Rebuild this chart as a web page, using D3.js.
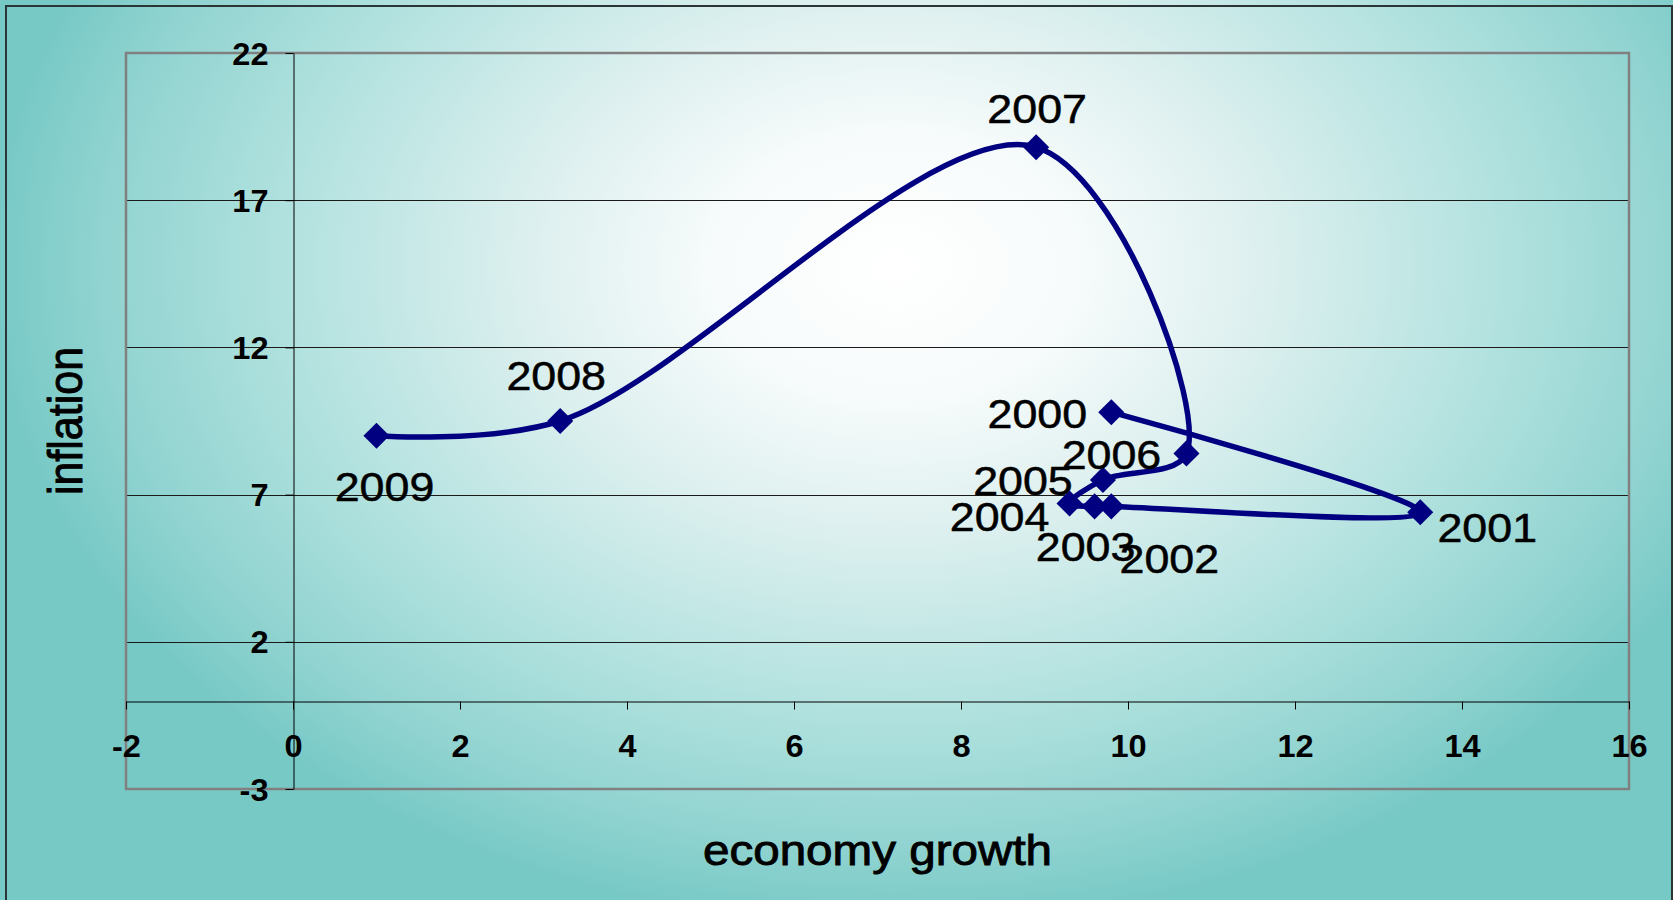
<!DOCTYPE html>
<html>
<head>
<meta charset="utf-8">
<script src="https://cdn.jsdelivr.net/npm/d3@7/dist/d3.min.js"></script>
<style>
  html, body { margin: 0; padding: 0; background: #76c9c5; }
  svg { display: block; }
  text { font-family: "Liberation Sans", Arial, Helvetica, sans-serif; fill: #000; }
</style>
</head>
<body>
<svg id="chart" width="1673" height="900"></svg>
<script>
// Economy growth vs. inflation, one point per year, joined in time order
const years     = [2000, 2001, 2002, 2003, 2004, 2005, 2006, 2007, 2008, 2009];
const growth    = [9.8, 13.5, 9.8, 9.6, 9.3, 9.7, 10.7, 8.9, 3.2, 1.0];
const inflation = [9.8, 6.4, 6.6, 6.6, 6.7, 7.5, 8.4, 18.8, 9.5, 9.0];

const xTicks = [-2, 0, 2, 4, 6, 8, 10, 12, 14, 16];
const yTicks = [-3, 2, 7, 12, 17, 22];

const xTitle = "economy growth";
const yTitle = "inflation";

const W = 1673, H = 900;
const plot = { left: 126, right: 1629, top: 53, bottom: 789 };
const TEXT_STRETCH = 1.12;          // text is drawn slightly wide
const LINE_COLOR = "#000080";

const svg = d3.select("#chart");

// ----- background: soft radial fill, near white in the middle, teal at the edges -----
const defs = svg.append("defs");
const cx = 895, cy = 267, rx = 905, ry = 660;
const grad = defs.append("radialGradient")
  .attr("id", "bgFill")
  .attr("gradientUnits", "userSpaceOnUse")
  .attr("cx", cx).attr("cy", cy).attr("r", rx)
  .attr("fx", cx).attr("fy", cy)
  .attr("gradientTransform", `translate(${cx},${cy}) scale(1,${ry / rx}) translate(${-cx},${-cy})`);
[
  [0.00, "#ffffff"],
  [0.20, "#f7fbfb"],
  [0.40, "#ddf0ef"],
  [0.70, "#ade0dd"],
  [0.88, "#90d3d0"],
  [1.00, "#77c9c6"]
].forEach(([o, c]) => grad.append("stop").attr("offset", o).attr("stop-color", c));

svg.append("rect").attr("x", 0).attr("y", 0).attr("width", W).attr("height", H)
  .attr("fill", "url(#bgFill)");

// outer frame
svg.append("rect").attr("x", 6).attr("y", 6).attr("width", W - 7).attr("height", H)
  .attr("fill", "none").attr("stroke", "#2b3535").attr("stroke-width", 2);

// ----- scales -----
const x = d3.scaleLinear().domain([-2, 16]).range([plot.left, plot.right]);
const y = d3.scaleLinear().domain([-3, 22]).range([plot.bottom, plot.top]);

// horizontal gridlines
svg.append("g").selectAll("line").data(yTicks).join("line")
  .attr("x1", plot.left).attr("x2", plot.right)
  .attr("y1", d => Math.round(y(d)) + 0.5).attr("y2", d => Math.round(y(d)) + 0.5)
  .attr("stroke", "#1a1a1a").attr("stroke-width", 1);

// plot frame
svg.append("rect")
  .attr("x", plot.left).attr("y", plot.top)
  .attr("width", plot.right - plot.left).attr("height", plot.bottom - plot.top)
  .attr("fill", "none").attr("stroke", "#808080").attr("stroke-width", 2.5);

// ----- axes crossing at the origin -----
const x0 = Math.round(x(0)) + 0.5;
const y0 = Math.round(y(0)) + 0.5;
const tickFmt = d => String(d);   // plain hyphen minus

const yAxis = svg.append("g")
  .attr("transform", `translate(${x0},0)`)
  .call(d3.axisLeft(y).tickValues(yTicks).tickSize(8).tickSizeOuter(0).tickFormat(tickFmt));

const xAxis = svg.append("g")
  .attr("transform", `translate(0,${y0})`)
  .call(d3.axisBottom(x).tickValues(xTicks).tickSize(8).tickSizeOuter(0).tickFormat(tickFmt));

const TICK_SIZE = 31;
[yAxis, xAxis].forEach(g => {
  g.select(".domain").attr("stroke", "#000").attr("stroke-width", 1);
  g.selectAll(".tick line").attr("stroke", "#000").attr("stroke-width", 1);
  g.selectAll(".tick text")
    .attr("font-size", TICK_SIZE).attr("font-weight", "bold")
    .style("font-family", '"Liberation Sans", Arial, sans-serif')
    .attr("fill", "#000");
});

// y tick labels: right-aligned, centred on their gridline
yAxis.selectAll(".tick text")
  .attr("x", null).attr("dy", null)
  .attr("text-anchor", "end")
  .attr("transform", `translate(-25,${0.358 * TICK_SIZE}) scale(1.05,1)`);

// x tick labels: centred under their tick
xAxis.selectAll(".tick text")
  .attr("y", null).attr("dy", null)
  .attr("text-anchor", "middle")
  .attr("transform", `translate(0,${Math.round(745 - y0 + 0.358 * TICK_SIZE)}) scale(1.05,1)`);

// ----- axis titles -----
svg.append("text")
  .attr("transform", `translate(${(plot.left + plot.right) / 2},865) scale(${TEXT_STRETCH},1)`)
  .attr("text-anchor", "middle")
  .attr("font-size", 42.5)
  .attr("stroke", "#000").attr("stroke-width", 0.9)
  .text(xTitle);

svg.append("text")
  .attr("transform", `translate(82,${(plot.top + plot.bottom) / 2}) scale(${TEXT_STRETCH},1) rotate(-90)`)
  .attr("text-anchor", "middle")
  .attr("font-size", 43)
  .attr("stroke", "#000").attr("stroke-width", 0.9)
  .text(yTitle);

// ----- smoothed path through the years -----
const points = years.map((yr, i) => ({ year: yr, g: growth[i], inf: inflation[i] }));

const line = d3.line()
  .x(d => x(d.g))
  .y(d => y(d.inf))
  .curve(d3.curveCatmullRom.alpha(0.5));

svg.append("path")
  .datum(points)
  .attr("d", line)
  .attr("fill", "none")
  .attr("stroke", LINE_COLOR)
  .attr("stroke-width", 5.5)
  .attr("stroke-linejoin", "round")
  .attr("stroke-linecap", "round");

// diamond markers
const diamond = d3.symbol().type(d3.symbolSquare).size(340);
svg.append("g").selectAll("path").data(points).join("path")
  .attr("d", diamond)
  .attr("transform", d => `translate(${x(d.g)},${y(d.inf)}) rotate(45)`)
  .attr("fill", LINE_COLOR);

// ----- year labels, placed beside their markers (centre offsets in px) -----
const labelOffset = {
  2000: [-74, 2],
  2001: [67, 15],
  2002: [58, 52],
  2003: [-9, 40],
  2004: [-70, 13],
  2005: [-80, 1],
  2006: [-75, 1],
  2007: [1, -39],
  2008: [-4, -45],
  2009: [8, 51]
};
const LABEL_SIZE = 40;

svg.append("g").selectAll("text").data(points).join("text")
  .attr("transform", d => {
    const [dx, dy] = labelOffset[d.year];
    return `translate(${x(d.g) + dx},${y(d.inf) + dy + 0.358 * LABEL_SIZE}) scale(${TEXT_STRETCH},1)`;
  })
  .attr("text-anchor", "middle")
  .attr("font-size", LABEL_SIZE)
  .attr("stroke", "#000").attr("stroke-width", 0.5)
  .text(d => d.year);
</script>
</body>
</html>
